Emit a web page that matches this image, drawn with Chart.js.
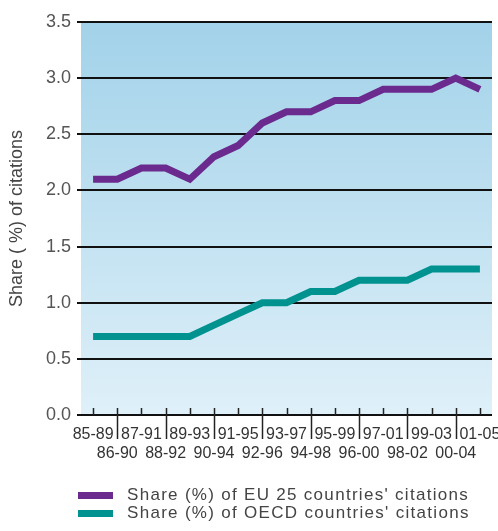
<!DOCTYPE html>
<html>
<head>
<meta charset="utf-8">
<script src="https://cdn.jsdelivr.net/npm/chart.js@4.4.0/dist/chart.umd.min.js"></script>
<style>
  html, body { margin: 0; padding: 0; background: #fff; }
  #wrap { position: relative; width: 498px; height: 531px; }
  #legend { position: absolute; left: 78px; top: 486px; font-family: 'Liberation Sans', Arial, sans-serif; font-size: 17px; letter-spacing: 1.3px; color: #444; }
  .row { display: flex; align-items: center; height: 18px; white-space: nowrap; }
  .sw { width: 35px; height: 7px; margin-right: 14px; }
</style>
</head>
<body>
<div id="wrap">
  <canvas id="chart" width="498" height="531"></canvas>
  <div id="legend"></div>
</div>
<script>
// periodos (ventanas de 5 años)
const periods = ['85-89', '86-90', '87-91', '88-92', '89-93', '90-94', '91-95', '92-96', '93-97',
                 '94-98', '95-99', '96-00', '97-01', '98-02', '99-03', '00-04', '01-05'];
const euShare = [2.1, 2.1, 2.2, 2.2, 2.1, 2.3, 2.4, 2.6, 2.7, 2.7, 2.8, 2.8, 2.9, 2.9, 2.9, 3.0, 2.9];
const oecdShare = [0.7, 0.7, 0.7, 0.7, 0.7, 0.8, 0.9, 1.0, 1.0, 1.1, 1.1, 1.2, 1.2, 1.2, 1.3, 1.3, 1.3];
const yTicks = [0, 0.5, 1.0, 1.5, 2.0, 2.5, 3.0, 3.5];

const seriesNames = ["Share (%) of EU 25 countries' citations", "Share (%) of OECD countries' citations"];
const seriesColors = ['#6b2a8e', '#00928f'];

const FONT = "'Liberation Sans', Arial, sans-serif";

// fondo degradado del área del gráfico
const bgPlugin = {
    id: 'bgGradient',
    beforeDraw(chart) {
        const { ctx, chartArea: a } = chart;
        const g = ctx.createLinearGradient(0, a.top, 0, a.bottom);
        g.addColorStop(0, '#a2d2e9');
        g.addColorStop(1, '#dff0f9');
        ctx.save();
        ctx.fillStyle = g;
        ctx.fillRect(a.left, a.top, a.right - a.left, a.bottom - a.top);
        ctx.restore();
    }
};

// marcas pequeñas y separadores del eje x
const xMarks = {
    id: 'xMarks',
    afterDraw(chart) {
        const { ctx, chartArea: a } = chart;
        const xs = chart.scales.x;
        ctx.save();
        ctx.strokeStyle = '#222';
        ctx.lineWidth = 1.5;
        periods.forEach((p, i) => {
            const x = Math.round(xs.getPixelForValue(i)) + 0.5;
            ctx.beginPath();
            ctx.moveTo(x, a.bottom - 7);
            ctx.lineTo(x, a.bottom);
            if (i % 2 === 1) ctx.lineTo(x, a.bottom + 24);
            ctx.stroke();
        });
        ctx.restore();
    }
};

new Chart(document.getElementById('chart').getContext('2d'), {
    type: 'line',
    data: {
        labels: periods,
        datasets: [
            { label: seriesNames[0], data: euShare, borderColor: seriesColors[0], borderWidth: 7, pointRadius: 0, tension: 0 },
            { label: seriesNames[1], data: oecdShare, borderColor: seriesColors[1], borderWidth: 7, pointRadius: 0, tension: 0 }
        ]
    },
    options: {
        responsive: false,
        animation: false,
        layout: { padding: { top: 22, right: 6, left: 0, bottom: 56 } },
        plugins: { legend: { display: false }, tooltip: { enabled: false } },
        scales: {
            x: {
                offset: true,
                grid: { display: false },
                border: { display: false },
                afterFit(scale) {
                    scale.height = 60;
                    scale.paddingLeft = 0;
                    scale.paddingRight = 0;
                },
                ticks: {
                    autoSkip: false, maxRotation: 0, minRotation: 0, padding: 2,
                    color: '#333',
                    font: { family: FONT, size: 16 },
                    callback: (v, i) => i % 2 === 0 ? [periods[i], ''] : ['', periods[i]]
                }
            },
            y: {
                min: 0, max: 3.5,
                afterBuildTicks(scale) { scale.ticks = yTicks.map(v => ({ value: v })); },
                afterFit(scale) { scale.width = 81; },
                grid: { color: '#111', lineWidth: 2, tickLength: 4 },
                border: { display: false },
                ticks: {
                    color: '#555', padding: 6,
                    font: { family: FONT, size: 18 },
                    callback: v => v.toFixed(1)
                },
                title: {
                    display: true, text: 'Share ( %) of citations', color: '#444',
                    font: { family: FONT, size: 18 }, padding: { top: 6 }
                }
            }
        }
    },
    plugins: [bgPlugin, xMarks]
});

// leyenda
const legend = document.getElementById('legend');
seriesNames.forEach((name, i) => {
    const row = document.createElement('div');
    row.className = 'row';
    row.innerHTML = '<span class="sw" style="background:' + seriesColors[i] + '"></span><span>' + name + '</span>';
    legend.appendChild(row);
});
</script>
</body>
</html>
